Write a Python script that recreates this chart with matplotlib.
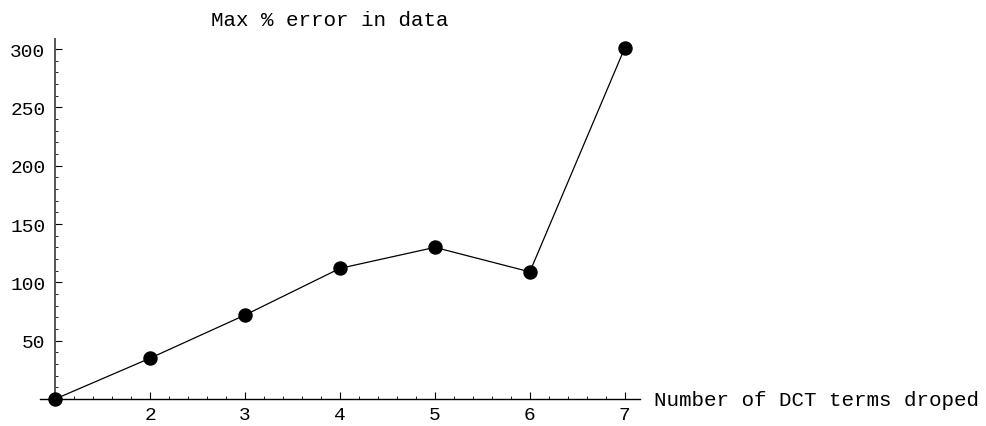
import matplotlib.pyplot as plt
from matplotlib.ticker import MultipleLocator

terms_dropped = [1, 2, 3, 4, 5, 6, 7]
max_error = [0, 35, 72, 112, 130, 109, 301]

plt.rcParams['font.family'] = ['Liberation Mono', 'DejaVu Sans Mono']

fig = plt.figure(figsize=(9.87, 4.27), dpi=100)
ax = fig.add_axes([0.0405, 0.0632, 0.6079, 0.8431])

ax.plot(terms_dropped, max_error, color='black', lw=0.9,
        marker='o', markersize=9.4, clip_on=False, zorder=3)

ax.set_xlim(0.84, 7.16)
ax.set_ylim(0, 308.6)

# Mathematica-style axes crossing at (1, 0)
ax.spines['top'].set_visible(False)
ax.spines['right'].set_visible(False)
ax.spines['left'].set_position(('data', 1))
ax.spines['bottom'].set_position(('data', 0))
ax.spines['left'].set_color('#555555')
ax.spines['left'].set_linewidth(1.4)
ax.spines['bottom'].set_linewidth(1.0)

ax.xaxis.set_major_locator(MultipleLocator(1))
ax.xaxis.set_minor_locator(MultipleLocator(0.2))
ax.yaxis.set_major_locator(MultipleLocator(50))
ax.yaxis.set_minor_locator(MultipleLocator(10))
ax.set_xticks([2, 3, 4, 5, 6, 7])
ax.set_yticks([50, 100, 150, 200, 250, 300])

ax.tick_params(axis='both', which='major', direction='in', length=5, width=0.8,
               labelsize=14)
ax.tick_params(axis='both', which='minor', direction='in', length=2.5, width=0.6)
ax.tick_params(axis='x', pad=5)
ax.tick_params(axis='y', pad=7)

fig.text(0.334, 0.952, "Max % error in data", ha='center', va='center', fontsize=15)
fig.text(0.663, 0.0632, "Number of DCT terms droped", ha='left', va='center', fontsize=15)

fig.savefig("out.png", dpi=100)
